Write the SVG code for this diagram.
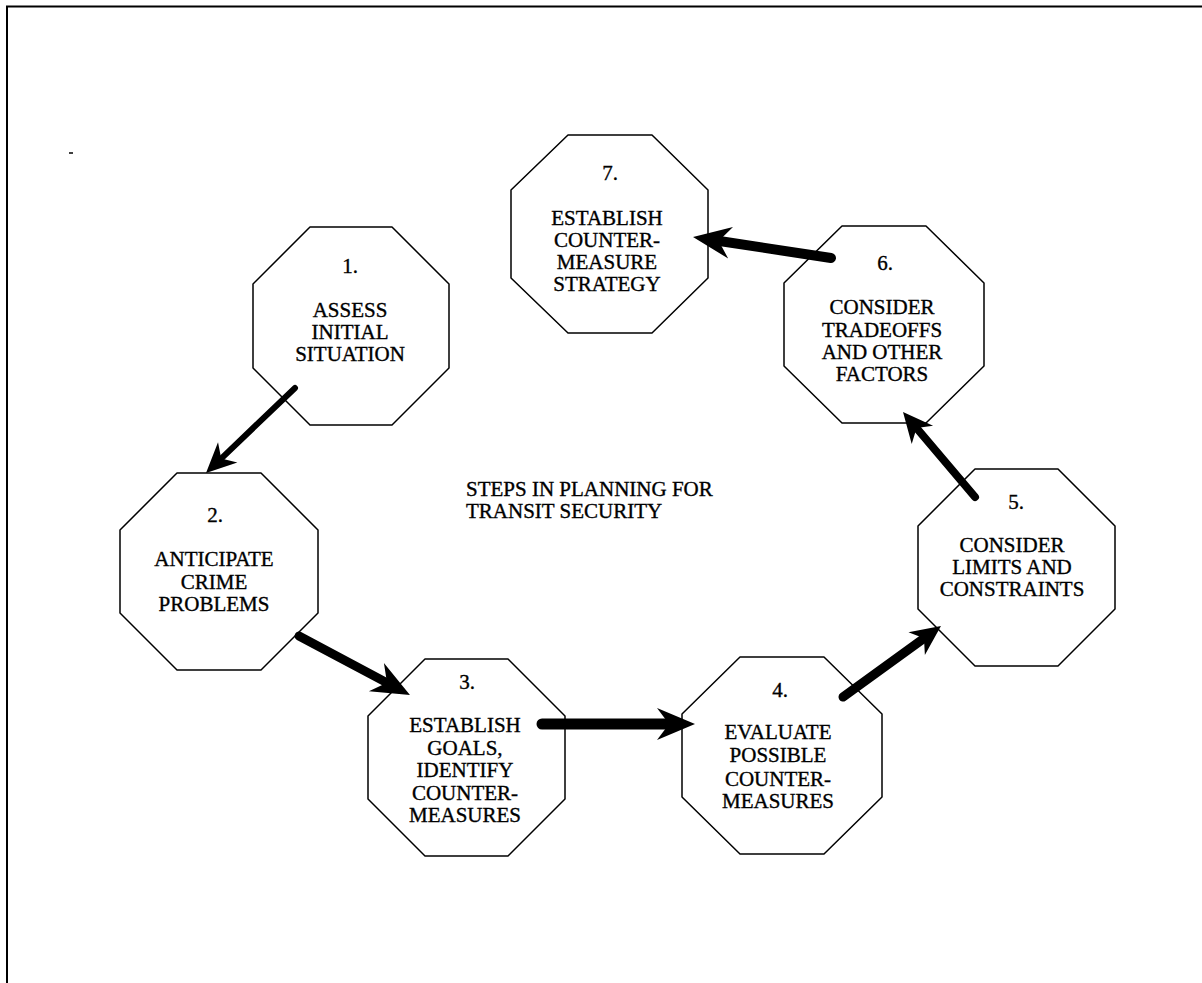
<svg xmlns="http://www.w3.org/2000/svg" width="1202" height="983" viewBox="0 0 1202 983">
<defs>
<style>
.oct{fill:#fff;stroke:#000;stroke-width:1.5;stroke-linejoin:round}
.t{font-family:"Liberation Serif","Times New Roman",serif;font-size:21px;fill:#000;stroke:#000;stroke-width:0.35;text-anchor:middle}
.title{font-family:"Liberation Serif","Times New Roman",serif;font-size:21px;fill:#000;stroke:#000;stroke-width:0.35}
.arr{fill:none;stroke:#000;stroke-linecap:round}
.frame{fill:none;stroke:#000;stroke-width:2}
</style>
<marker id="hs" markerUnits="userSpaceOnUse" viewBox="-16 -16 36 32" refX="0" refY="0" markerWidth="36" markerHeight="32" orient="auto" overflow="visible">
<path d="M17,0 L-13,-14 L-4,0 L-13,14 Z" fill="#000"/>
</marker>
<marker id="hb" markerUnits="userSpaceOnUse" viewBox="-20 -18 42 36" refX="0" refY="0" markerWidth="42" markerHeight="36" orient="auto" overflow="visible">
<path d="M20,0 L-18,-16 L-6,0 L-18,16 Z" fill="#000"/>
</marker>
</defs>
<rect width="1202" height="983" fill="#fff"/>
<path class="frame" d="M7,983 L7,6.5 L1202,6.5"/>
<path d="M69,153 L73,153" stroke="#000" stroke-width="1.5"/>

<g id="node1">
<polygon class="oct" points="310,227 392,227 449,284 449,368 392,425 310,425 253,368 253,284"/>
<text class="t" x="350" y="273">1.</text>
<text class="t" x="350" y="317">ASSESS</text>
<text class="t" x="350" y="339">INITIAL</text>
<text class="t" x="350" y="361">SITUATION</text>
</g>
<g id="node2">
<polygon class="oct" points="177,473 261,473 318,530 318,613 261,670 177,670 120,613 120,530"/>
<text class="t" x="215" y="522">2.</text>
<text class="t" x="214" y="566">ANTICIPATE</text>
<text class="t" x="214" y="589">CRIME</text>
<text class="t" x="214" y="611">PROBLEMS</text>
</g>
<g id="node3">
<polygon class="oct" points="425,659 508,659 565,716 565,799 508,856 425,856 368,799 368,716"/>
<text class="t" x="467" y="689">3.</text>
<text class="t" x="465" y="732">ESTABLISH</text>
<text class="t" x="465" y="755">GOALS,</text>
<text class="t" x="465" y="777">IDENTIFY</text>
<text class="t" x="465" y="800">COUNTER-</text>
<text class="t" x="465" y="822">MEASURES</text>
</g>
<g id="node4">
<polygon class="oct" points="740,657 824,657 882,714 882,797 824,854 740,854 682,797 682,714"/>
<text class="t" x="780" y="697">4.</text>
<text class="t" x="778" y="739">EVALUATE</text>
<text class="t" x="778" y="762">POSSIBLE</text>
<text class="t" x="778" y="786">COUNTER-</text>
<text class="t" x="778" y="808">MEASURES</text>
</g>
<g id="node5">
<polygon class="oct" points="975,469 1058,469 1115,526 1115,609 1058,666 975,666 918,609 918,526"/>
<text class="t" x="1016" y="509">5.</text>
<text class="t" x="1012" y="552">CONSIDER</text>
<text class="t" x="1012" y="574">LIMITS AND</text>
<text class="t" x="1012" y="596">CONSTRAINTS</text>
</g>
<g id="node6">
<polygon class="oct" points="842,226 926,226 984,283 984,366 926,423 842,423 784,366 784,283"/>
<text class="t" x="885" y="270">6.</text>
<text class="t" x="882" y="314">CONSIDER</text>
<text class="t" x="882" y="337">TRADEOFFS</text>
<text class="t" x="882" y="359">AND OTHER</text>
<text class="t" x="882" y="381">FACTORS</text>
</g>
<g id="node7">
<polygon class="oct" points="568,135 652,135 708,190 708,278 652,333 568,333 511,278 511,190"/>
<text class="t" x="610" y="180">7.</text>
<text class="t" x="607" y="225">ESTABLISH</text>
<text class="t" x="607" y="247">COUNTER-</text>
<text class="t" x="607" y="269">MEASURE</text>
<text class="t" x="607" y="291">STRATEGY</text>
</g>

<g id="title">
<text class="title" x="466" y="496">STEPS IN PLANNING FOR</text>
<text class="title" x="466" y="518">TRANSIT SECURITY</text>
</g>

<g id="connectors">
<path class="arr" d="M295,388 L218.3,461.3" stroke-width="6" marker-end="url(#hs)"/>
<path class="arr" d="M299,636 L392.3,685.6" stroke-width="9" marker-end="url(#hb)"/>
<path class="arr" d="M542,724 L675,724" stroke-width="11" marker-end="url(#hb)"/>
<path class="arr" d="M843,697 L927.2,636" stroke-width="9" marker-end="url(#hs)"/>
<path class="arr" d="M975,497 L914,425" stroke-width="8" marker-end="url(#hs)"/>
<path class="arr" d="M831,258 L712.8,240" stroke-width="10" marker-end="url(#hb)"/>
</g>
</svg>
